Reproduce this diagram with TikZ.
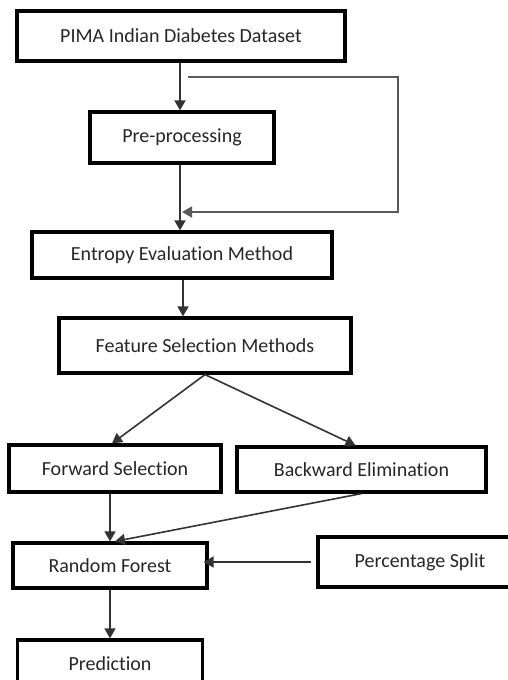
\documentclass[tikz,border=0pt]{standalone}
\usepackage{fontspec}
\setmainfont{Carlito}[Ligatures={NoCommon}]
\usetikzlibrary{arrows.meta}

\begin{document}
\begin{tikzpicture}[x=1pt,y=-1pt,
    stage/.style={draw=black, line width=3.2pt, inner sep=0pt, text=black!85,
        font=\fontsize{20}{24}\selectfont},
    flow/.style={draw=black!80, line width=1.6pt, -{Triangle[length=10pt,width=11pt]}},
    loop/.style={draw=black!65, line width=1.8pt, -{Triangle[length=10pt,width=11pt]}}]
    \useasboundingbox (0,0) rectangle (508,680);

        %%boxes
        \node[stage, minimum width=328pt, minimum height=50pt] (pima) at(181, 36){PIMA Indian Diabetes Dataset};
        \node[stage, minimum width=184pt, minimum height=51pt] (pre) at(182, 137.5){Pre-processing};
        \node[stage, minimum width=300pt, minimum height=46pt] (entropy) at(182, 255){Entropy Evaluation Method};
        \node[stage, minimum width=292pt, minimum height=55pt] (feature) at(205, 345.5){Feature Selection Methods};
        \node[stage, minimum width=212pt, minimum height=47pt] (forward) at(115, 468.5){Forward Selection};
        \node[stage, minimum width=249pt, minimum height=45pt] (backward) at(361.5, 469.5){Backward Elimination};
        \node[stage, minimum width=194pt, minimum height=45pt] (random) at(110, 565.5){Random Forest};
        \node[stage, minimum width=204pt, minimum height=50pt] (percent) at(420, 562){Percentage Split};
        \node[stage, minimum width=185pt, minimum height=48pt] (predict) at(110, 664){Prediction};

        %%bypass of pre-processing
        \coordinate (tap) at(188, 77);
        \coordinate (entry) at(182, 212);

        %%arrows
        \draw[flow] (pima.south -| 180,0) -- (pre.north -| 180,0);
        \draw[flow] (pre.south -| 180,0) -- (entropy.north -| 180,0);
        \draw[loop] (tap) -- (398, 77) |- (entry);
        \draw[flow] (entropy.south -| 183,0) -- (feature.north -| 183,0);
        \draw[flow] (feature.south) -- ([xshift=-3pt]forward.north);
        \draw[flow] (feature.south) -- ([xshift=-6pt]backward.north);
        \draw[flow] (forward.south -| random.north) -- (random.north);
        \draw[flow] (backward.south) -- ([xshift=5pt]random.north);
        \draw[flow] ([xshift=-5pt]percent.west) -- ([xshift=-5pt]percent.west -| random.east);
        \draw[flow] (random.south) -- (predict.north);
    \end{tikzpicture}
\end{document}
